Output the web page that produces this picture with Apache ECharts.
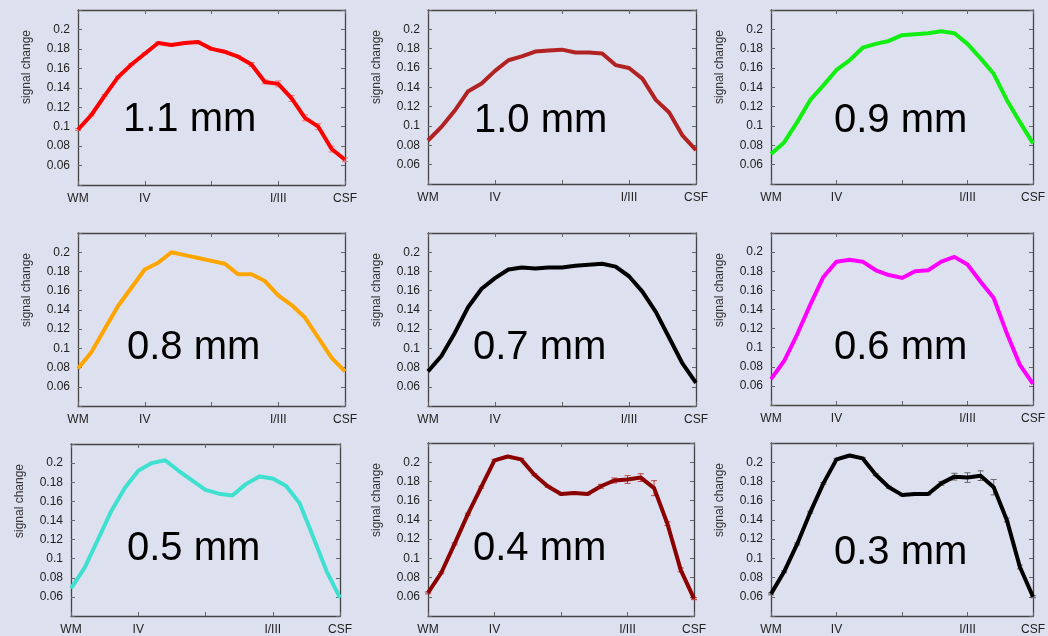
<!DOCTYPE html>
<html>
<head>
<meta charset="utf-8">
<script src="https://cdn.jsdelivr.net/npm/echarts@6/dist/echarts.min.js"></script>
<style>
  html, body { margin: 0; padding: 0; background: #dde1ef; }
  #chart { width: 1048px; height: 636px; }
</style>
</head>
<body>
<div id="chart"></div>
<script>
// Cortical depth profiles: WM -> IV -> I/III -> CSF, 21 sampled depths
const depthTicks = { 0: 'WM', 5: 'IV', 10: '', 15: 'I/III', 20: 'CSF' };
const yTickValues = [0.06, 0.08, 0.1, 0.12, 0.14, 0.16, 0.18, 0.2];

const resolutions = ['1.1 mm', '1.0 mm', '0.9 mm', '0.8 mm', '0.7 mm', '0.6 mm', '0.5 mm', '0.4 mm', '0.3 mm'];

const sig11 = [0.097, 0.112, 0.132, 0.151, 0.164, 0.175, 0.186, 0.184, 0.186, 0.187, 0.180, 0.177, 0.172, 0.164, 0.146, 0.144, 0.129, 0.109, 0.100, 0.077, 0.066];
const sig10 = [0.085, 0.099, 0.116, 0.136, 0.144, 0.157, 0.168, 0.172, 0.177, 0.178, 0.179, 0.176, 0.176, 0.175, 0.163, 0.160, 0.149, 0.127, 0.114, 0.090, 0.075];
const sig09 = [0.071, 0.083, 0.104, 0.127, 0.142, 0.158, 0.168, 0.181, 0.185, 0.188, 0.194, 0.195, 0.196, 0.198, 0.196, 0.185, 0.170, 0.154, 0.127, 0.104, 0.082];
const sig08 = [0.079, 0.096, 0.120, 0.144, 0.163, 0.182, 0.189, 0.200, 0.197, 0.194, 0.191, 0.188, 0.177, 0.177, 0.170, 0.155, 0.145, 0.132, 0.111, 0.090, 0.076];
const sig07 = [0.076, 0.092, 0.116, 0.143, 0.162, 0.173, 0.182, 0.184, 0.183, 0.184, 0.184, 0.186, 0.187, 0.188, 0.185, 0.175, 0.159, 0.138, 0.111, 0.084, 0.064];
const sig06 = [0.067, 0.086, 0.114, 0.145, 0.174, 0.190, 0.192, 0.190, 0.181, 0.176, 0.173, 0.180, 0.181, 0.190, 0.195, 0.187, 0.169, 0.152, 0.115, 0.082, 0.062];
const sig05 = [0.069, 0.090, 0.120, 0.150, 0.174, 0.192, 0.200, 0.203, 0.192, 0.182, 0.172, 0.168, 0.166, 0.178, 0.186, 0.184, 0.176, 0.158, 0.123, 0.087, 0.059];
const sig04 = [0.064, 0.085, 0.115, 0.146, 0.174, 0.202, 0.206, 0.203, 0.187, 0.175, 0.167, 0.168, 0.167, 0.175, 0.181, 0.182, 0.184, 0.173, 0.136, 0.088, 0.058];
const sig03 = [0.063, 0.086, 0.115, 0.148, 0.178, 0.203, 0.207, 0.204, 0.187, 0.174, 0.166, 0.167, 0.167, 0.178, 0.185, 0.184, 0.186, 0.174, 0.140, 0.091, 0.060];

// standard errors (half-length of the error bars)
const err11 = [0.001, 0.001, 0.001, 0.001, 0.001, 0.001, 0.001, 0.001, 0.001, 0.001, 0.001, 0.001, 0.001, 0.002, 0.002, 0.003, 0.003, 0.003, 0.003, 0.003, 0.002];
const err04 = [0.001, 0.001, 0.001, 0.001, 0.001, 0.001, 0.001, 0.001, 0.001, 0.001, 0.001, 0.001, 0.001, 0.002, 0.0026, 0.004, 0.004, 0.0078, 0.002, 0.002, 0.001];
const err03 = [0.001, 0.001, 0.001, 0.001, 0.001, 0.001, 0.001, 0.001, 0.001, 0.001, 0.001, 0.001, 0.001, 0.002, 0.0035, 0.005, 0.005, 0.008, 0.002, 0.002, 0.001];

const profiles = [sig11, sig10, sig09, sig08, sig07, sig06, sig05, sig04, sig03];
const errors = [err11, null, null, null, null, null, null, err04, err03];
const lineColors = ['#ff0000', '#b22222', '#11ee11', '#ffa500', '#000000', '#ff00ff', '#40e0d0', '#8b0000', '#000000'];
const errColors = ['#f07070', null, null, null, null, null, null, '#c04040', '#666666'];

// panel boxes in pixels: [left, top, width, height]
const boxes = [
  [78, 10, 267, 175], [428, 10, 268, 174], [771, 10, 267, 174],
  [78, 233, 267, 173], [428, 233, 268, 173], [771, 233, 268, 172],
  [71, 444, 269, 174], [428, 443, 266, 173], [771, 443, 268, 173]
];
// big resolution label anchor (left, vertical centre of digits)
const labelPos = [
  [123, 120], [474, 121], [834, 121],
  [127, 348], [473, 348], [834, 348],
  [127, 549], [473, 549], [834, 553]
];

const frameColor = '#444';
const textColor = '#222';
const fontFam = '"Liberation Sans", Arial, Helvetica, sans-serif';

const grid = [], xAxis = [], yAxis = [], series = [], graphic = [];

boxes.forEach((b, i) => {
  grid.push({ left: b[0], top: b[1], width: b[2], height: b[3], containLabel: false });
  const frameLine = { show: true, onZero: false, lineStyle: { color: frameColor, width: 1.3 } };
  const tick = { show: true, inside: true, length: 4, lineStyle: { color: '#666', width: 1 } };
  xAxis.push({
    type: 'value', gridIndex: i, min: 0, max: 20, interval: 5, position: 'bottom',
    axisLine: frameLine, axisTick: tick, splitLine: { show: false },
    axisLabel: {
      color: textColor, fontFamily: fontFam, fontSize: 12, margin: 8,
      formatter: v => depthTicks[v] !== undefined ? depthTicks[v] : ''
    }
  });
  xAxis.push({
    type: 'value', gridIndex: i, min: 0, max: 20, interval: 5, position: 'top',
    axisLine: frameLine, axisTick: tick, axisLabel: { show: false }, splitLine: { show: false }
  });
  yAxis.push({
    type: 'value', gridIndex: i, min: 0.04, max: 0.22, interval: 0.02, position: 'left',
    axisLine: frameLine, axisTick: tick, splitLine: { show: false },
    axisLabel: {
      color: textColor, fontFamily: fontFam, fontSize: 12, margin: 8,
      formatter: v => {
        const r = Math.round(v * 100) / 100;
        return yTickValues.some(t => Math.abs(t - r) < 1e-9) ? String(r) : '';
      }
    }
  });
  yAxis.push({
    type: 'value', gridIndex: i, min: 0.04, max: 0.22, interval: 0.02, position: 'right',
    axisLine: frameLine, axisTick: tick, axisLabel: { show: false }, splitLine: { show: false }
  });
  if (errors[i]) {
    const ec = errColors[i];
    // error bars sit beneath the profile line, so only the wider ones stick out
    series.push({
      type: 'custom', xAxisIndex: 2 * i, yAxisIndex: 2 * i,
      data: profiles[i].map((v, k) => [k, v - errors[i][k], v + errors[i][k]]),
      renderItem: (params, api) => {
        const lo = api.coord([api.value(0), api.value(1)]);
        const hi = api.coord([api.value(0), api.value(2)]);
        const cap = 3;
        const ls = { stroke: ec, lineWidth: 1 };
        return {
          type: 'group',
          children: [
            { type: 'line', shape: { x1: lo[0], y1: lo[1], x2: hi[0], y2: hi[1] }, style: ls },
            { type: 'line', shape: { x1: lo[0] - cap, y1: lo[1], x2: lo[0] + cap, y2: lo[1] }, style: ls },
            { type: 'line', shape: { x1: hi[0] - cap, y1: hi[1], x2: hi[0] + cap, y2: hi[1] }, style: ls }
          ]
        };
      },
      z: 1, silent: true, animation: false
    });
  }
  series.push({
    type: 'line', xAxisIndex: 2 * i, yAxisIndex: 2 * i,
    data: profiles[i].map((v, k) => [k, v]),
    showSymbol: false, symbol: 'none', smooth: false,
    lineStyle: { color: lineColors[i], width: 4, join: 'round' },
    z: 2, silent: true, animation: false
  });
  graphic.push({
    type: 'text', rotation: Math.PI / 2,
    position: [b[0] - 51, b[1] + 57],
    style: {
      text: 'signal change', x: 0, y: 0, align: 'center', verticalAlign: 'middle',
      fill: '#333', font: '12px ' + fontFam
    }
  });
  graphic.push({
    type: 'text', position: [labelPos[i][0], labelPos[i][1]],
    style: {
      text: resolutions[i], x: 0, y: 0, align: 'left', verticalAlign: 'middle',
      fill: '#000', font: '40px ' + fontFam
    },
    z: 10
  });
});

const chart = echarts.init(document.getElementById('chart'), null, { renderer: 'canvas' });
chart.setOption({
  backgroundColor: '#dde1ef',
  animation: false,
  grid, xAxis, yAxis, series, graphic
});
</script>
</body>
</html>
